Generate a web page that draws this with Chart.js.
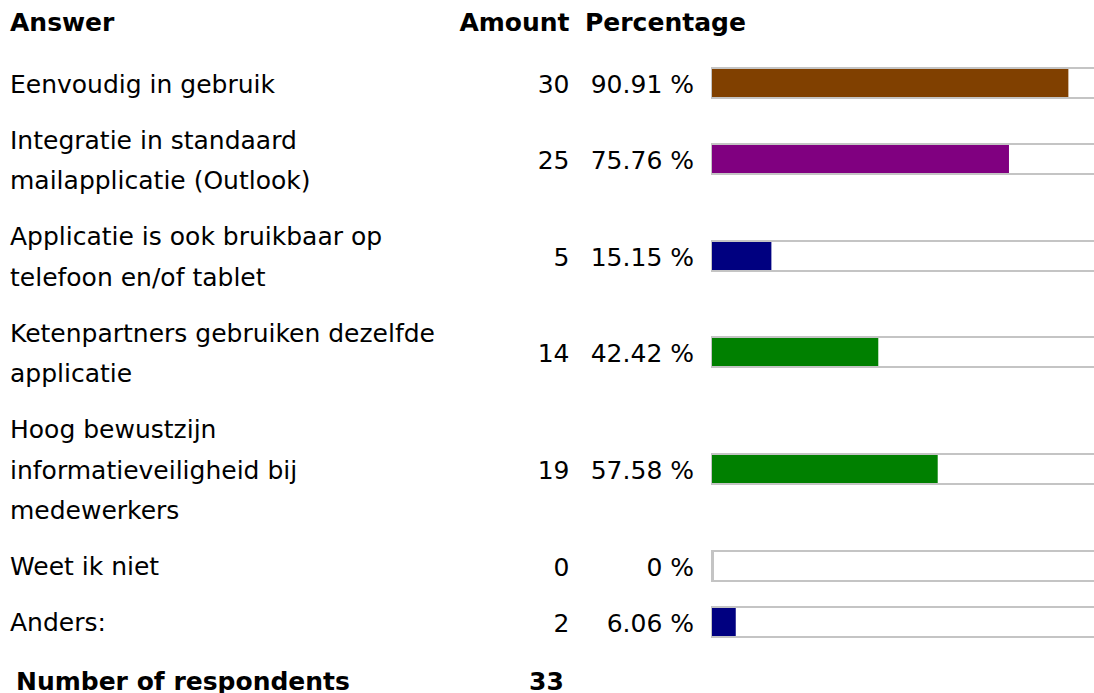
<!DOCTYPE html>
<html>
<head>
<meta charset="utf-8">
<script src="https://cdn.jsdelivr.net/npm/chart.js@4"></script>
<style>
  html, body { margin: 0; padding: 0; background: #fff; overflow: hidden; }
  body { width: 1094px; height: 693px; position: relative; font-family: "DejaVu Sans", Verdana, sans-serif; font-size: 25px; color: #000; }
  .kop { position: absolute; top: 1px; height: 44px; line-height: 44px; font-weight: bold; white-space: nowrap; }
  #rijen { position: absolute; top: 55px; left: 0; width: 1094px; }
  .rij { position: relative; box-sizing: border-box; padding: 7.75px 0; line-height: 40.5px; }
  .antwoord { position: relative; top: 2px; margin-left: 10px; white-space: nowrap; }
  .aantal, .perc { position: absolute; top: 50%; transform: translateY(-50%); margin-top: 2px; text-align: right; white-space: nowrap; }
  .aantal { right: calc(1094px - 569.5px); }
  .perc { right: calc(1094px - 694px); }
  .balk { position: absolute; left: 711px; top: 50%; margin-top: -16px; width: 400px; height: 28px;
          border-top: 2px solid #c4c4c4; border-bottom: 2px solid #c4c4c4; border-left: 3px solid #c4c4c4; }
  .balk canvas { position: absolute; left: -2px; top: 0; }
  .voet { position: absolute; top: 660px; height: 44px; line-height: 44px; font-weight: bold; white-space: nowrap; }
</style>
</head>
<body>
<div class="kop" style="left:10px">Answer</div>
<div class="kop" style="right:calc(1094px - 569.5px)">Amount</div>
<div class="kop" style="left:585px">Percentage</div>
<div id="rijen"></div>
<div class="voet" style="left:16px">Number of respondents</div>
<div class="voet" style="left:529px" id="totaal"></div>

<script>
// Antwoorden (regels zoals ze in de cel afbreken)
const antwoorden = [
  ['Eenvoudig in gebruik'],
  ['Integratie in standaard', 'mailapplicatie (Outlook)'],
  ['Applicatie is ook bruikbaar op', 'telefoon en/of tablet'],
  ['Ketenpartners gebruiken dezelfde', 'applicatie'],
  ['Hoog bewustzijn', 'informatieveiligheid bij', 'medewerkers'],
  ['Weet ik niet'],
  ['Anders:']
];
const aantallen = [30, 25, 5, 14, 19, 0, 2];
const percentages = [90.91, 75.76, 15.15, 42.42, 57.58, 0, 6.06];
const respondenten = 33;

const balkKleuren = ['#804000', '#800080', '#000080', '#008000', '#008000', '#000080', '#000080'];

function formatPerc(p) {
  return p === 0 ? '0 %' : p.toFixed(2) + ' %';
}

const rijen = document.getElementById('rijen');
document.getElementById('totaal').textContent = respondenten;

antwoorden.forEach(function(regels, i) {
  const rij = document.createElement('div');
  rij.className = 'rij';

  const label = document.createElement('div');
  label.className = 'antwoord';
  label.innerHTML = regels.join('<br>');
  rij.appendChild(label);

  const aantal = document.createElement('div');
  aantal.className = 'aantal';
  aantal.textContent = aantallen[i];
  rij.appendChild(aantal);

  const perc = document.createElement('div');
  perc.className = 'perc';
  perc.textContent = formatPerc(percentages[i]);
  rij.appendChild(perc);

  const balk = document.createElement('div');
  balk.className = 'balk';
  const canvas = document.createElement('canvas');
  canvas.width = 392;
  canvas.height = 28;
  balk.appendChild(canvas);
  rij.appendChild(balk);

  rijen.appendChild(rij);

  // Eén horizontale balk per antwoord, schaal 0-100 %
  new Chart(canvas.getContext('2d'), {
    type: 'bar',
    data: {
      labels: [regels.join(' ')],
      datasets: [{
        data: [percentages[i]],
        backgroundColor: balkKleuren[i],
        borderWidth: 0,
        inflateAmount: 0,
        barPercentage: 1,
        categoryPercentage: 1
      }]
    },
    options: {
      indexAxis: 'y',
      responsive: false,
      animation: false,
      layout: { padding: 0 },
      plugins: { legend: { display: false }, tooltip: { enabled: false } },
      scales: {
        x: { display: false, min: 0, max: 100 },
        y: { display: false }
      }
    }
  });
});
</script>
</body>
</html>
